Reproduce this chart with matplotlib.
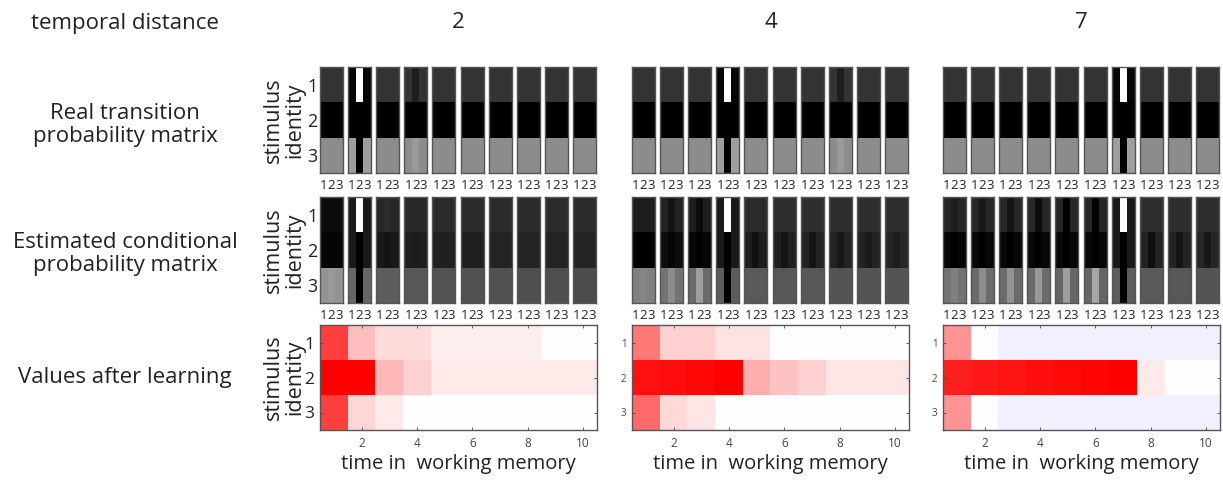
import matplotlib.pyplot as plt
import numpy as np
from matplotlib.colors import LinearSegmentedColormap, Normalize

plt.rcParams["font.family"] = ["Open Sans", "DejaVu Sans"]

DISTANCES = [2, 4, 7]
ROW_LABELS = [
    "Real transition\nprobability matrix",
    "Estimated conditional\nprobability matrix",
    "Values after learning",
]
STATES = ["1", "2", "3"]
LAGS = list(range(1, 11))
LAG_TICKS = [2, 4, 6, 8, 10]

# grey level of each cell of the real transition matrices (0 = black, 1 = white)
REAL_BASE = [[0.20, 0.20, 0.20], [0.00, 0.00, 0.00], [0.55, 0.55, 0.55]]
REAL_FAINT = [[0.20, 0.12, 0.20], [0.00, 0.00, 0.00], [0.55, 0.60, 0.55]]
REAL_SPIKE = [[0.02, 1.00, 0.02], [0.00, 0.00, 0.00], [0.62, 0.00, 0.62]]
REAL_LAYOUT = {
    2: ["b", "s", "b", "f", "b", "b", "b", "b", "b", "b"],
    4: ["b", "b", "b", "s", "b", "b", "b", "f", "b", "b"],
    7: ["b", "b", "b", "b", "b", "b", "s", "b", "b", "b"],
}

# grey level of the estimated conditional probability matrices, one per lag
EST_2 = [
    [[0.05, 0.05, 0.05], [0.02, 0.02, 0.02], [0.58, 0.60, 0.58]],
    [[0.10, 1.00, 0.10], [0.10, 0.00, 0.10], [0.40, 0.00, 0.40]],
    [[0.15, 0.17, 0.15], [0.10, 0.08, 0.10], [0.36, 0.36, 0.36]],
    [[0.16, 0.16, 0.16], [0.12, 0.11, 0.12], [0.34, 0.34, 0.34]],
    [[0.17, 0.17, 0.17], [0.13, 0.13, 0.13], [0.33, 0.33, 0.33]],
    [[0.17, 0.17, 0.17], [0.13, 0.13, 0.13], [0.32, 0.32, 0.32]],
    [[0.17, 0.17, 0.17], [0.14, 0.14, 0.14], [0.32, 0.32, 0.32]],
    [[0.17, 0.17, 0.17], [0.14, 0.14, 0.14], [0.31, 0.31, 0.31]],
    [[0.17, 0.17, 0.17], [0.14, 0.14, 0.14], [0.31, 0.31, 0.31]],
    [[0.17, 0.17, 0.17], [0.14, 0.14, 0.14], [0.30, 0.30, 0.30]],
]
EST_4 = [
    [[0.12, 0.12, 0.12], [0.00, 0.00, 0.00], [0.50, 0.52, 0.50]],
    [[0.14, 0.08, 0.14], [0.05, 0.02, 0.05], [0.45, 0.55, 0.45]],
    [[0.12, 0.04, 0.12], [0.03, 0.00, 0.03], [0.42, 0.62, 0.42]],
    [[0.10, 1.00, 0.10], [0.10, 0.00, 0.10], [0.36, 0.00, 0.36]],
    [[0.17, 0.17, 0.17], [0.12, 0.07, 0.12], [0.35, 0.35, 0.35]],
    [[0.18, 0.18, 0.18], [0.13, 0.08, 0.13], [0.34, 0.34, 0.34]],
    [[0.18, 0.18, 0.18], [0.14, 0.08, 0.14], [0.34, 0.34, 0.34]],
    [[0.18, 0.18, 0.18], [0.14, 0.09, 0.14], [0.33, 0.33, 0.33]],
    [[0.18, 0.18, 0.18], [0.14, 0.10, 0.14], [0.33, 0.33, 0.33]],
    [[0.18, 0.18, 0.18], [0.15, 0.11, 0.15], [0.33, 0.33, 0.33]],
]
EST_7 = [
    [[0.15, 0.12, 0.15], [0.02, 0.00, 0.02], [0.45, 0.50, 0.45]],
    [[0.15, 0.10, 0.15], [0.03, 0.00, 0.03], [0.42, 0.55, 0.42]],
    [[0.15, 0.08, 0.15], [0.03, 0.00, 0.03], [0.42, 0.58, 0.42]],
    [[0.15, 0.05, 0.15], [0.03, 0.00, 0.03], [0.42, 0.60, 0.42]],
    [[0.15, 0.00, 0.15], [0.03, 0.00, 0.03], [0.40, 0.62, 0.40]],
    [[0.15, 0.00, 0.15], [0.03, 0.00, 0.03], [0.40, 0.65, 0.40]],
    [[0.10, 1.00, 0.10], [0.10, 0.00, 0.10], [0.36, 0.00, 0.36]],
    [[0.18, 0.18, 0.18], [0.14, 0.06, 0.14], [0.35, 0.35, 0.35]],
    [[0.18, 0.18, 0.18], [0.14, 0.08, 0.14], [0.34, 0.34, 0.34]],
    [[0.18, 0.18, 0.18], [0.15, 0.10, 0.15], [0.33, 0.33, 0.33]],
]
ESTIMATED = {2: EST_2, 4: EST_4, 7: EST_7}

# learned values: rows = stimulus identity, columns = time in working memory
VALUES_2 = [
    [0.75, 0.25, 0.14, 0.14, 0.07, 0.07, 0.07, 0.07, 0.00, 0.00],
    [1.00, 1.00, 0.28, 0.18, 0.08, 0.08, 0.08, 0.08, 0.08, 0.08],
    [0.75, 0.16, 0.08, 0.00, 0.00, 0.00, 0.00, 0.00, 0.00, 0.00],
]
VALUES_4 = [
    [0.53, 0.18, 0.18, 0.11, 0.11, 0.00, 0.00, 0.00, 0.00, 0.00],
    [0.93, 0.95, 0.97, 1.00, 0.32, 0.24, 0.18, 0.10, 0.10, 0.10],
    [0.58, 0.15, 0.10, 0.00, 0.00, 0.00, 0.00, 0.00, 0.00, 0.00],
]
VALUES_7 = [
    [0.42, 0.00, -0.06, -0.06, -0.06, -0.06, -0.06, -0.06, -0.06, -0.06],
    [0.88, 0.90, 0.92, 0.94, 0.96, 0.98, 1.00, 0.08, 0.00, 0.00],
    [0.42, 0.00, -0.06, -0.06, -0.06, -0.06, -0.06, -0.06, -0.06, -0.06],
]
VALUES = {2: VALUES_2, 4: VALUES_4, 7: VALUES_7}

W, H = 1223, 488
PANEL_LEFT = [320, 632, 943]
MAT_W, MAT_PITCH = 23, 28.1
GREY_TOPS = [67, 197]
GREY_H = 106
HEAT_TOP, HEAT_H, HEAT_W = 325, 105, 277
TEXT = "#222222"

fig = plt.figure(figsize=(W / 100, H / 100), dpi=100)


def px_axes(left, top, width, height):
    return fig.add_axes([left / W, 1 - (top + height) / H, width / W, height / H])


def grey_matrix(ax, mat, show_states):
    ax.imshow(np.array(mat), cmap="gray", vmin=0, vmax=1, aspect="auto", interpolation="nearest")
    ax.set_xticks([0, 1, 2])
    ax.set_xticklabels(STATES, fontsize=9.5, color=TEXT)
    ax.tick_params(axis="x", length=0, pad=4)
    if show_states:
        ax.set_yticks([0, 1, 2])
        ax.set_yticklabels(STATES, fontsize=13, color=TEXT)
        ax.tick_params(axis="y", length=0, pad=2)
    else:
        ax.set_yticks([])
    for spine in ax.spines.values():
        spine.set_color("#555555")
        spine.set_linewidth(1.0)


value_cmap = LinearSegmentedColormap.from_list("bwr_soft", ["#0000ff", "#ffffff", "#ff0000"])
value_norm = Normalize(vmin=-1, vmax=1)

for p, dist in enumerate(DISTANCES):
    left = PANEL_LEFT[p]
    sources = [
        [{"b": REAL_BASE, "f": REAL_FAINT, "s": REAL_SPIKE}[k] for k in REAL_LAYOUT[dist]],
        ESTIMATED[dist],
    ]
    for r, mats in enumerate(sources):
        for i, mat in enumerate(mats):
            ax = px_axes(left + i * MAT_PITCH, GREY_TOPS[r], MAT_W, GREY_H)
            grey_matrix(ax, mat, show_states=(p == 0 and i == 0))

    ax = px_axes(left, HEAT_TOP, HEAT_W, HEAT_H)
    ax.imshow(np.array(VALUES[dist]), cmap=value_cmap, norm=value_norm, aspect="auto",
              interpolation="nearest", extent=(0.5, len(LAGS) + 0.5, 3.5, 0.5))
    ax.set_xticks(LAG_TICKS)
    ax.set_yticks([1, 2, 3])
    ax.set_yticklabels(STATES)
    ax.tick_params(direction="in", length=2, width=0.6, top=True, right=True,
                   labelsize=8.5, labelcolor="#444444", color="#444444")
    ax.tick_params(axis="x", pad=5)
    if p == 0:
        ax.tick_params(axis="y", labelsize=12.5, labelcolor=TEXT, pad=4)
    else:
        ax.tick_params(axis="y", labelsize=7, pad=4)
    for spine in ax.spines.values():
        spine.set_color("#555555")
        spine.set_linewidth(1.0)

    cx = left + HEAT_W / 2
    fig.text(cx / W, 1 - 22 / H, str(dist), fontsize=16, color=TEXT, ha="center", va="center")
    fig.text(cx / W, 1 - 464 / H, "time in  working memory", fontsize=14.5, color=TEXT,
             ha="center", va="center")

fig.text(125 / W, 1 - 23 / H, "temporal distance", fontsize=16, color=TEXT, ha="center", va="center")
for label, yc in zip(ROW_LABELS, [125, 254, 377]):
    fig.text(125 / W, 1 - yc / H, label, fontsize=16, color=TEXT, ha="center", va="center",
             linespacing=1.15)
for yc in [120, 250, 377]:
    fig.text(284 / W, 1 - yc / H, "stimulus\nidentity", fontsize=15.5, color=TEXT, rotation=90,
             ha="center", va="center", linespacing=1.0)

fig.savefig("out.png", dpi=100, facecolor="white")
